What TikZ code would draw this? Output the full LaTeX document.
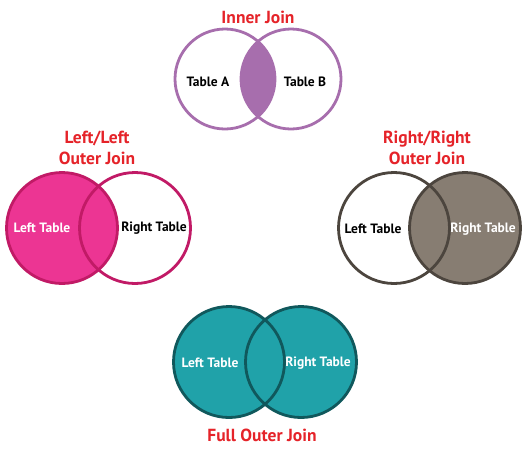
\documentclass[tikz,border=0pt]{standalone}
\usepackage{fontspec}
\setmainfont{PT Sans}
\definecolor{jred}{HTML}{E52329}
\definecolor{ipurple}{HTML}{A76EAD}
\definecolor{lpink}{HTML}{EC3593}
\definecolor{lpinkd}{HTML}{C11A66}
\definecolor{rgray}{HTML}{877D72}
\definecolor{rgrayd}{HTML}{4C453E}
\definecolor{fteal}{HTML}{20A2A9}
\definecolor{ftealD}{HTML}{10585C}
\begin{document}
\begin{tikzpicture}[x=1pt,y=-1pt,
  ring/.style={circle, draw, line width=2.8pt, minimum size=#1, inner sep=0pt},
  title/.style={text=jred, font=\bfseries\fontsize{17.5}{21}\selectfont, align=center},
  lbl/.style={font=\bfseries\fontsize{13.5}{15}\selectfont}]
\path[use as bounding box] (0,0) rectangle (526,448);

% Inner join
\coordinate (ca) at (225,79);
\coordinate (cb) at (291,79);
\begin{scope}
  \clip (ca) circle (50);
  \fill[ipurple] (cb) circle (50);
\end{scope}
\node[ring=100pt, draw=ipurple] (ia) at (ca) {};
\node[ring=100pt, draw=ipurple] (ib) at (cb) {};
\node[lbl] (ta) at (208,82) {Table A};
\node[lbl] (tb) at (305,82) {Table B};
\node[title] (it) at (258,17) {Inner Join};

% Left outer join
\coordinate (la) at (62,228);
\coordinate (lb) at (135,228);
\fill[lpink] (la) circle (55.5);
\node[ring=111pt, draw=lpinkd] (lac) at (la) {};
\node[ring=111pt, draw=lpinkd] (lbc) at (lb) {};
\node[lbl, text=white] (ll) at (42,228) {Left Table};
\node[lbl] (lr) at (154,228) {Right Table};
\node[title] (lt) at (97,148) {Left/Left\\Outer Join};

% Right outer join
\coordinate (ra) at (394,228);
\coordinate (rb) at (465,228);
\fill[rgray] (rb) circle (55.5);
\node[ring=111pt, draw=rgrayd] (rac) at (ra) {};
\node[ring=111pt, draw=rgrayd] (rbc) at (rb) {};
\node[lbl] (rl) at (373,229) {Left Table};
\node[lbl, text=white] (rr) at (483,229) {Right Table};
\node[title] (rt) at (427,148) {Right/Right\\Outer Join};

% Full outer join
\coordinate (fa) at (229,362);
\coordinate (fb) at (301,362);
\fill[fteal] (fa) circle (55.5);
\fill[fteal] (fb) circle (55.5);
\node[ring=111pt, draw=ftealD] (fac) at (fa) {};
\node[ring=111pt, draw=ftealD] (fbc) at (fb) {};
\node[lbl, text=white] (fl) at (210,363) {Left Table};
\node[lbl, text=white] (fr) at (318,363) {Right Table};
\node[title] (ft) at (262,435) {Full Outer Join};
\end{tikzpicture}
\end{document}
